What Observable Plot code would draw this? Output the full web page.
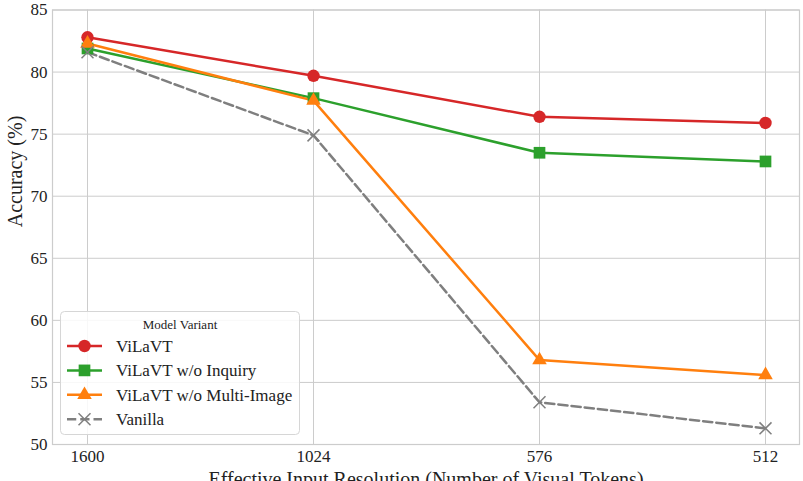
<!DOCTYPE html>
<html><head>
<meta charset="utf-8">
<script src="https://cdn.jsdelivr.net/npm/d3@7"></script>
<script src="https://cdn.jsdelivr.net/npm/@observablehq/plot@0.6"></script>
<style>body{margin:0;background:#fff}#chart{position:relative;width:803px;height:481px;overflow:hidden}</style>
</head><body><div id="chart"></div>
<script>
const resolutions = ["1600", "1024", "576", "512"];
const seriesNames = ["ViLaVT", "ViLaVT w/o Inquiry", "ViLaVT w/o Multi-Image", "Vanilla"];
const vilavt = [82.8, 79.7, 76.4, 75.9];
const woInquiry = [81.9, 77.9, 73.5, 72.8];
const woMultiImage = [82.3, 77.7, 56.8, 55.6];
const vanilla = [81.6, 74.9, 53.4, 51.3];
const yTicks = [50, 55, 60, 65, 70, 75, 80, 85];
const colors = ["#d62728", "#2ca02c", "#ff7f0e", "#7f7f7f"];
const symbols = ["circle", "square", "triangle", "times"];
const dashes = [null, null, null, "9.25,4"];

const valuesBySeries = [vilavt, woInquiry, woMultiImage, vanilla];
const rows = [];
seriesNames.forEach((s, i) => resolutions.forEach((r, j) => rows.push({series: s, res: r, acc: valuesBySeries[i][j], idx: i})));

const symR = {circle: 6.2, square: 6.6, triangle: 5.4, times: 5.5};
const font = "'Liberation Serif', 'DejaVu Serif', serif";
const marks = [
  Plot.gridX(resolutions, {stroke: "#cccccc", strokeOpacity: 1, strokeWidth: 1}),
  Plot.gridY(yTicks, {stroke: "#cccccc", strokeOpacity: 1, strokeWidth: 1}),
  Plot.frame({stroke: "#cccccc", strokeWidth: 1.2}),
  Plot.axisY(yTicks, {tickSize: 0, tickPadding: 5, label: null, fontSize: 17}),
  Plot.axisX(resolutions, {tickSize: 0, tickPadding: 5, label: null, fontSize: 17}),
  Plot.text(["Accuracy (%)"], {frameAnchor: "left", dx: -37, rotate: -90, fontSize: 20, fill: "#222"}),
  Plot.text(["Effective Input Resolution (Number of Visual Tokens)"], {frameAnchor: "bottom", dy: 41, fontSize: 20, fill: "#222"})
];
seriesNames.forEach((s, i) => {
  const d = rows.filter(r => r.series === s);
  marks.push(Plot.line(d, {x: "res", y: "acc", stroke: colors[i], strokeWidth: 2.5, strokeDasharray: dashes[i]}));
});
seriesNames.forEach((s, i) => {
  const d = rows.filter(r => r.series === s);
  if (symbols[i] === "times") {
    marks.push(Plot.dot(d, {x: "res", y: "acc", symbol: "times", r: symR.times, stroke: colors[i], strokeWidth: 1.5, fill: "none"}));
  } else {
    marks.push(Plot.dot(d, {x: "res", y: "acc", symbol: symbols[i], r: symR[symbols[i]], fill: colors[i], stroke: "none"}));
  }
});

const chart = Plot.plot({
  width: 803, height: 481,
  marginLeft: 52, marginRight: 4, marginTop: 9.5, marginBottom: 37,
  style: {fontFamily: font, fontSize: "17px", color: "#222", background: "#fff", overflow: "visible"},
  x: {type: "point", domain: resolutions, padding: 0.15, axis: null},
  y: {domain: [50, 85], axis: null},
  marks
});
document.getElementById("chart").appendChild(chart);

// legend inside plot area
const svg = d3.select(chart);
const g = svg.append("g").attr("font-family", font).attr("text-anchor", "start");
g.append("rect").attr("x", 60.5).attr("y", 311.5).attr("width", 239).attr("height", 123).attr("rx", 4)
  .attr("fill", "#fff").attr("fill-opacity", 0.85).attr("stroke", "#d6d6d6");
g.append("text").attr("x", 180).attr("y", 328.5).attr("text-anchor", "middle").attr("font-size", 13).attr("fill", "#222").text("Model Variant");
seriesNames.forEach((s, i) => {
  const y = 346 + i * 24.4;
  g.append("line").attr("x1", 67).attr("x2", 102).attr("y1", y).attr("y2", y)
    .attr("stroke", colors[i]).attr("stroke-width", 2.5).attr("stroke-dasharray", dashes[i]);
  const typ = {circle: d3.symbolCircle, square: d3.symbolSquare, triangle: d3.symbolTriangle, times: d3.symbolTimes}[symbols[i]];
  const r = symR[symbols[i]];
  const p = g.append("path").attr("transform", `translate(84.5,${y})`).attr("d", d3.symbol(typ, Math.PI * r * r)());
  if (symbols[i] === "times") p.attr("fill", "none").attr("stroke", colors[i]).attr("stroke-width", 1.5);
  else p.attr("fill", colors[i]);
  g.append("text").attr("x", 116).attr("y", y).attr("dy", "0.35em").attr("text-anchor", "start").attr("font-size", 17).attr("fill", "#222").text(s);
});
</script>
</body></html>
